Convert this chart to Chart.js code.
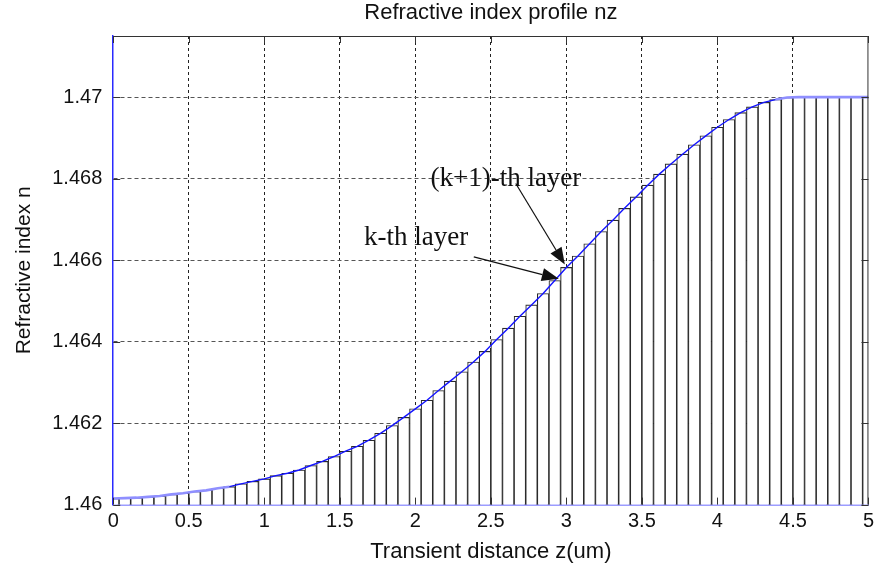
<!DOCTYPE html>
<html>
<head>
<meta charset="utf-8">
<script src="https://cdn.jsdelivr.net/npm/chart.js@4.4.0/dist/chart.umd.min.js"></script>
<style>
  html, body { margin: 0; padding: 0; background: #fff; }
  #wrap { width: 879px; height: 569px; }
</style>
</head>
<body>
<div id="wrap"><canvas id="chart"></canvas></div>
<script>
// layer centres z (um) and the step value n of each layer
const layerZ = [
  0, 0.0769, 0.1538, 0.2308, 0.3077, 0.3846, 0.4615, 0.5385, 0.6154, 0.6923,
  0.7692, 0.8462, 0.9231, 1.0, 1.0769, 1.1538, 1.2308, 1.3077, 1.3846, 1.4615,
  1.5385, 1.6154, 1.6923, 1.7692, 1.8462, 1.9231, 2.0, 2.0769, 2.1538, 2.2308,
  2.3077, 2.3846, 2.4615, 2.5385, 2.6154, 2.6923, 2.7692, 2.8462, 2.9231, 3.0,
  3.0769, 3.1538, 3.2308, 3.3077, 3.3846, 3.4615, 3.5385, 3.6154, 3.6923, 3.7692,
  3.8462, 3.9231, 4.0, 4.0769, 4.1538, 4.2308, 4.3077, 4.3846, 4.4615, 4.5385,
  4.6154, 4.6923, 4.7692, 4.8462, 4.9231, 5.0,
];
const layerN = [
  1.46015, 1.46016, 1.46017, 1.46019, 1.46021, 1.46025, 1.46028, 1.46032, 1.46035, 1.4604,
  1.46044, 1.46051, 1.46057, 1.46063, 1.46071, 1.46077, 1.46085, 1.46096, 1.46106, 1.46118,
  1.46131, 1.46143, 1.46158, 1.46175, 1.46194, 1.46214, 1.46235, 1.46256, 1.4628, 1.46303,
  1.46326, 1.4635, 1.46376, 1.46405, 1.46433, 1.46462, 1.4649, 1.46518, 1.4655, 1.46582,
  1.4661, 1.4664, 1.4667, 1.46698, 1.46727, 1.46755, 1.46784, 1.46811, 1.46836, 1.4686,
  1.46883, 1.46905, 1.46926, 1.46945, 1.46962, 1.46976, 1.46987, 1.46994, 1.46999, 1.47,
  1.47, 1.47, 1.47, 1.47, 1.47, 1.47,
];

const xTicks = [0, 0.5, 1, 1.5, 2, 2.5, 3, 3.5, 4, 4.5, 5];
const xTickLabels = ['0', '0.5', '1', '1.5', '2', '2.5', '3', '3.5', '4', '4.5', '5'];
const yTicks = [1.46, 1.462, 1.464, 1.466, 1.468, 1.47];
const yTickLabels = ['1.46', '1.462', '1.464', '1.466', '1.468', '1.47'];

const chartTitle = 'Refractive index profile nz';

const notes = [
  { text: '(k+1)-th layer', z: 2.1, n: 1.468, fromZ: 2.665, fromN: 1.46788, toZ: 2.99, toN: 1.46589 },
  { text: 'k-th layer', z: 1.66, n: 1.46655, fromZ: 2.387, fromN: 1.46608, toZ: 2.95, toN: 1.46554 },
];

const points = layerZ.map((z, i) => ({ x: z, y: layerN[i] }));

Chart.defaults.font.family = "'Liberation Sans', Arial, sans-serif";
Chart.defaults.color = '#111';

function isFlat(ctx) {
  return Math.abs(ctx.p1.parsed.y - ctx.p0.parsed.y) < 0.00005;
}

const frameAndNotes = {
  id: 'frameAndNotes',
  afterDatasetsDraw(chart) {
    const { ctx, chartArea: area, scales: { x, y } } = chart;
    ctx.save();

    // title centred over the axes box, like matlab does
    ctx.fillStyle = '#111';
    ctx.font = "22px 'Liberation Sans', Arial, sans-serif";
    ctx.textAlign = 'center';
    ctx.textBaseline = 'middle';
    ctx.fillText(chartTitle, (area.left + area.right) / 2, 13);

    // top and right frame lines
    ctx.strokeStyle = '#333';
    ctx.lineWidth = 1;
    ctx.beginPath();
    ctx.moveTo(area.left, area.top + 0.5);
    ctx.lineTo(area.right - 0.5, area.top + 0.5);
    ctx.lineTo(area.right - 0.5, area.bottom);
    ctx.stroke();

    // inward tick marks
    ctx.beginPath();
    xTicks.forEach((v) => {
      const px = Math.round(x.getPixelForValue(v)) + 0.5;
      ctx.moveTo(px, area.top);
      ctx.lineTo(px, area.top + 7);
      ctx.moveTo(px, area.bottom);
      ctx.lineTo(px, area.bottom - 7);
    });
    yTicks.forEach((v) => {
      const py = Math.round(y.getPixelForValue(v)) + 0.5;
      ctx.moveTo(area.left, py);
      ctx.lineTo(area.left + 7, py);
      ctx.moveTo(area.right, py);
      ctx.lineTo(area.right - 7, py);
    });
    ctx.stroke();

    // annotations with arrows
    ctx.fillStyle = '#111';
    ctx.strokeStyle = '#111';
    ctx.font = "27px 'Liberation Serif', 'Times New Roman', serif";
    ctx.textAlign = 'left';
    notes.forEach((note) => {
      ctx.fillText(note.text, x.getPixelForValue(note.z), y.getPixelForValue(note.n));

      const x0 = x.getPixelForValue(note.fromZ);
      const y0 = y.getPixelForValue(note.fromN);
      const x1 = x.getPixelForValue(note.toZ);
      const y1 = y.getPixelForValue(note.toN);
      const angle = Math.atan2(y1 - y0, x1 - x0);
      const headLength = 17;
      const headWidth = 6.5;
      const bx = x1 - headLength * Math.cos(angle);
      const by = y1 - headLength * Math.sin(angle);

      ctx.lineWidth = 1.2;
      ctx.beginPath();
      ctx.moveTo(x0, y0);
      ctx.lineTo(bx, by);
      ctx.stroke();

      ctx.beginPath();
      ctx.moveTo(x1, y1);
      ctx.lineTo(bx + headWidth * Math.sin(angle), by - headWidth * Math.cos(angle));
      ctx.lineTo(bx - headWidth * Math.sin(angle), by + headWidth * Math.cos(angle));
      ctx.closePath();
      ctx.fill();
    });

    ctx.restore();
  },
};

new Chart(document.getElementById('chart'), {
  type: 'bar',
  data: {
    datasets: [
      {
        type: 'line',
        data: points,
        borderColor: '#1414ff',
        borderWidth: 1.4,
        pointRadius: 0,
        tension: 0,
        order: 0,
        segment: {
          borderColor: (ctx) => (isFlat(ctx) ? '#8f8fff' : '#1414ff'),
          borderWidth: (ctx) => (isFlat(ctx) ? 2.6 : 1.4),
        },
      },
      {
        type: 'bar',
        data: points,
        backgroundColor: '#ffffff',
        borderColor: '#2a2a2a',
        borderWidth: 1.1,
        barPercentage: 1,
        categoryPercentage: 1,
        order: 1,
      },
    ],
  },
  options: {
    responsive: true,
    maintainAspectRatio: false,
    animation: false,
    layout: {
      padding: { left: 12, right: 4, top: 36, bottom: 4 },
    },
    plugins: {
      legend: { display: false },
      tooltip: { enabled: false },
      title: { display: false },
    },
    scales: {
      x: {
        type: 'linear',
        min: 0,
        max: 5,
        offset: false,
        afterBuildTicks: (axis) => {
          axis.ticks = xTicks.map((value) => ({ value }));
        },
        ticks: {
          font: { size: 20 },
          padding: 5,
          maxRotation: 0,
          callback: (value, index) => xTickLabels[index],
        },
        grid: {
          offset: false,
          color: (c) => (c.tick && (c.tick.value === 0 || c.tick.value === 5) ? 'rgba(0,0,0,0)' : '#222'),
          lineWidth: 1,
          drawTicks: false,
        },
        border: { color: '#9c9cff', width: 3, dash: [3, 3] },
        title: {
          display: true,
          text: 'Transient distance z(um)',
          font: { size: 22 },
          padding: { top: 0, bottom: 0 },
        },
      },
      y: {
        min: 1.46,
        max: 1.4715,
        afterBuildTicks: (axis) => {
          axis.ticks = yTicks.map((value) => ({ value }));
        },
        ticks: {
          font: { size: 20 },
          padding: 11,
          callback: (value, index) => yTickLabels[index],
        },
        grid: {
          color: (c) => (c.tick && c.tick.value === 1.46 ? 'rgba(0,0,0,0)' : '#555'),
          lineWidth: 1,
          drawTicks: false,
        },
        border: { color: '#2a2aff', width: 1.5, dash: [4, 3] },
        title: {
          display: true,
          text: 'Refractive index n',
          font: { size: 21 },
          padding: { top: 0, bottom: 4 },
        },
      },
    },
  },
  plugins: [frameAndNotes],
});
</script>
</body>
</html>
